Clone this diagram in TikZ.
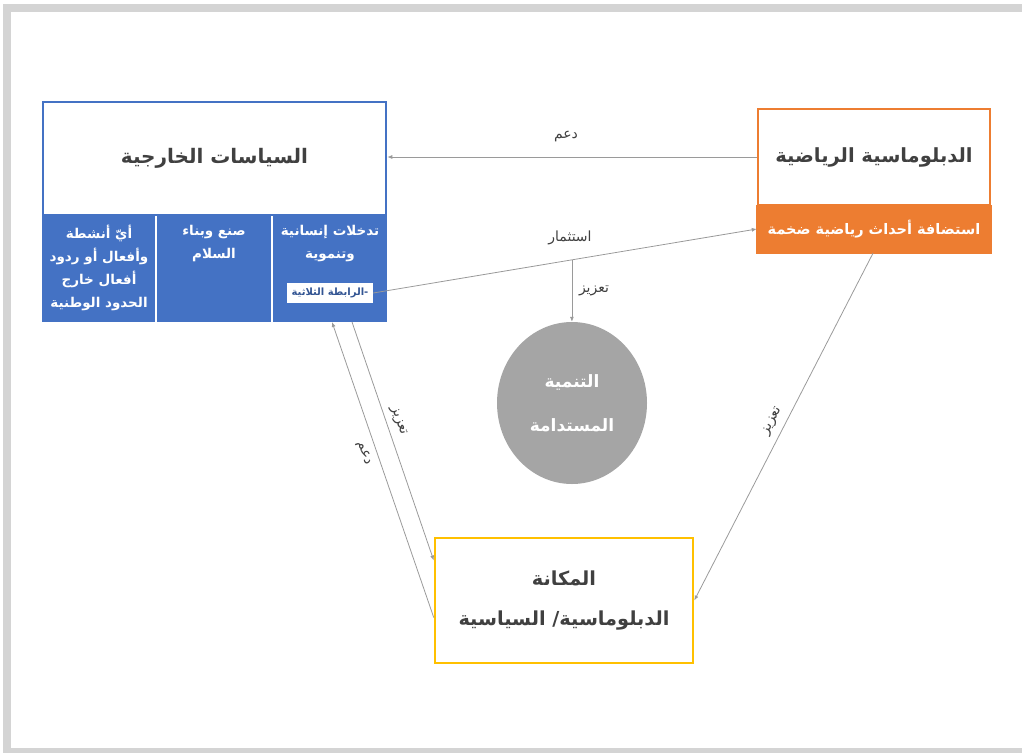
\documentclass[tikz,border=0pt]{standalone}
\usepackage{fontspec}
\usepackage{tikz}
\usetikzlibrary{arrows.meta,shapes.geometric}
\TeXXeTstate=1
\newfontfamily\arabicfont[Script=Arabic]{DejaVu Sans}
\newcommand{\artext}[1]{{\arabicfont\beginR #1\endR}}
\definecolor{polblue}{HTML}{4472C4}
\definecolor{sportorange}{HTML}{ED7D31}
\definecolor{rankgold}{HTML}{FFC000}
\definecolor{devgray}{HTML}{A5A5A5}
\definecolor{txtgray}{HTML}{404040}
\definecolor{framegray}{HTML}{D4D4D4}
\definecolor{linkgray}{HTML}{9A9A9A}
\tikzset{
  link/.style={draw=linkgray, line width=0.8pt, -{Latex[length=5pt,width=4pt]}},
  linklabel/.style={font=\fontsize{14}{16}\selectfont, text=txtgray, inner sep=1pt},
  coltext/.style={text=white, align=center, anchor=north, font=\fontsize{13.5}{23}\selectfont\bfseries},
  titlebox/.style={line width=2.5pt, fill=white, minimum width=#1, text=txtgray},
}

\begin{document}
\begin{tikzpicture}[x=1pt, y=-1pt]
%%%%% Frame %%%%%
\useasboundingbox (0,0) rectangle (1022,753);
\fill[framegray] (3,4) rectangle (1022,12);
\fill[framegray] (3,4) rectangle (11,753);
\fill[framegray] (3,748) rectangle (1022,753);

%%%%% Foreign policy %%%%%
\fill[polblue] (42,215) rectangle (387,322);
\coordinate (band-out) at (332,322);
\coordinate (band-in) at (352,322);
\draw[white, line width=1.5pt] (156,215)--(156,322) (272,215)--(272,322);
\node[titlebox=343pt, draw=polblue, minimum height=113pt, font=\fontsize{20}{24}\selectfont\bfseries] (policy) at (214.5,158.5) {\artext{السياسات الخارجية}};
\node[coltext] (acts) at (99,222) {\artext{أيّ أنشطة}\\\artext{وأفعال أو ردود}\\\artext{أفعال خارج}\\\artext{الحدود الوطنية}};
\node[coltext] (peace) at (214,222) {\artext{صنع وبناء}\\\artext{السلام}};
\node[coltext] (aid) at (330,222) {\artext{تدخلات إنسانية}\\\artext{وتنموية}};
\node[fill=white, text=polblue!75!black, minimum width=86pt, minimum height=20pt, inner sep=1pt,
      font=\fontsize{10}{12}\selectfont\bfseries] (triad) at (330,293) {\artext{-الرابطة الثلاثية}};

%%%%% Sport diplomacy %%%%%
\node[fill=sportorange, minimum width=234pt, minimum height=48pt, text=white,
      font=\fontsize{14.5}{17}\selectfont\bfseries] (hosting) at (874,229) {\artext{استضافة أحداث رياضية ضخمة}};
\node[titlebox=232pt, draw=sportorange, minimum height=96pt, font=\fontsize{19.5}{24}\selectfont\bfseries] (sport) at (874,157) {\artext{الدبلوماسية الرياضية}};
\draw[sportorange, line width=2.5pt] (hosting.north west) |- (hosting.south) -| (hosting.north east);

%%%%% Sustainable development %%%%%
\node[ellipse, fill=devgray, minimum width=150pt, minimum height=162pt, text=white, align=center,
      font=\fontsize{17}{44}\selectfont\bfseries] (dev) at (572,403) {\artext{التنمية}\\\artext{المستدامة}};

%%%%% Diplomatic standing %%%%%
\node[titlebox=258pt, draw=rankgold, minimum height=125pt, align=center,
      font=\fontsize{19.3}{40}\selectfont\bfseries] (rank) at (564,600.5) {\artext{المكانة}\\\artext{الدبلوماسية/ السياسية}};

%%%%% Links %%%%%
\draw[link] (sport.west) -- (sport.west -| policy.east);
\node[linklabel] (supportA) at (566,137) {\artext{دعم}};
\draw[link] (triad.east) -- coordinate[pos=0.518] (split) (hosting.west);
\node[linklabel] (invest) at (570,238) {\artext{استثمار}};
\draw[link] (split) -- (split |- dev.north);
\node[linklabel] (boostA) at (594,291) {\artext{تعزيز}};
\draw[link] ([xshift=-1pt]hosting.south) -- node[linklabel, sloped, above=6pt] (boostB) {\artext{تعزيز}} (rank.east);
\draw[link] (band-in) -- node[linklabel, sloped, pos=0.43, above=5pt] (boostC) {\artext{تعزيز}} ([yshift=40pt]rank.west);
\draw[link] ([yshift=-17pt]rank.west) -- node[linklabel, sloped, pos=0.57, below=6pt] (supportB) {\artext{دعم}} (band-out);
\end{tikzpicture}
\end{document}
